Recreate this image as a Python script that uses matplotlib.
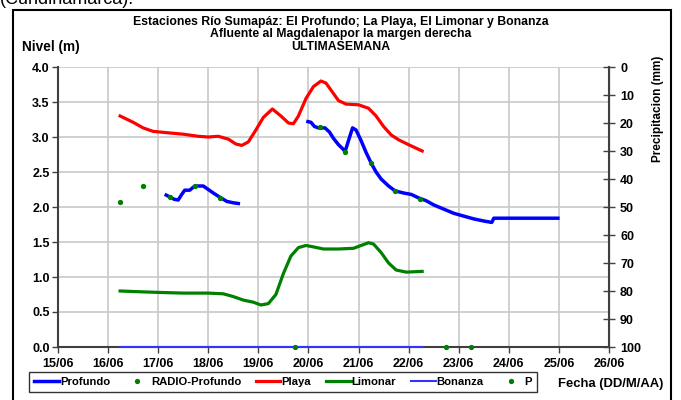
import numpy as np
import matplotlib
matplotlib.use("Agg")
import matplotlib.pyplot as plt
from matplotlib.patches import Rectangle

plt.rcParams['font.family'] = ['Liberation Sans', 'DejaVu Sans']
plt.rcParams['font.weight'] = 'bold'

# days of June (fractional)
day_labels = ['15/06', '16/06', '17/06', '18/06', '19/06', '20/06',
              '21/06', '22/06', '23/06', '24/06', '25/06', '26/06']
day_ticks = list(range(15, 27))

playa_t = [16.24, 16.5, 16.7, 16.9, 17.2, 17.5, 17.8, 18.0, 18.2, 18.4, 18.55, 18.67,
           18.8, 18.95, 19.1, 19.28, 19.45, 19.6, 19.7, 19.8, 19.95, 20.1, 20.25,
           20.35, 20.5, 20.6, 20.75, 21.0, 21.2, 21.35, 21.5, 21.65, 21.8, 22.0, 22.27]
playa_v = [3.30, 3.21, 3.13, 3.08, 3.06, 3.04, 3.01, 3.00, 3.01, 2.97, 2.90, 2.88,
           2.93, 3.10, 3.28, 3.40, 3.30, 3.20, 3.19, 3.30, 3.55, 3.72, 3.80,
           3.77, 3.62, 3.52, 3.47, 3.46, 3.41, 3.30, 3.15, 3.03, 2.96, 2.89, 2.80]

limonar_t = [16.24, 16.6, 17.0, 17.5, 18.0, 18.3, 18.5, 18.7, 18.9, 19.05, 19.2, 19.35,
             19.5, 19.65, 19.8, 19.95, 20.1, 20.3, 20.6, 20.9, 21.05, 21.2, 21.3,
             21.45, 21.6, 21.75, 21.95, 22.27]
limonar_v = [0.80, 0.79, 0.78, 0.77, 0.77, 0.76, 0.72, 0.67, 0.64, 0.60, 0.62, 0.75,
             1.05, 1.30, 1.42, 1.45, 1.43, 1.40, 1.40, 1.41, 1.45, 1.49, 1.47,
             1.35, 1.20, 1.10, 1.07, 1.08]

profundo_t = [17.16, 17.24, 17.32, 17.4, 17.47, 17.53, 17.63, 17.73, 17.9, 18.0, 18.1,
              18.23, 18.37, 18.5, 18.6, np.nan,
              19.99, 20.05, 20.12, 20.2, 20.33, 20.42, 20.5, 20.6, 20.7, 20.73, 20.8,
              20.88, 20.95, 21.05, 21.15, 21.25, 21.35, 21.45, 21.6, 21.73, 21.9, 22.05,
              22.2, 22.35, 22.5, 22.7, 22.9, 23.1, 23.3, 23.5, 23.66, 23.7, 24.0, 24.5, 24.98]
profundo_v = [2.17, 2.14, 2.11, 2.10, 2.18, 2.24, 2.24, 2.30, 2.30, 2.25, 2.20,
              2.14, 2.08, 2.06, 2.05, np.nan,
              3.22, 3.21, 3.15, 3.13, 3.13, 3.07, 2.98, 2.89, 2.82, 2.79, 2.95,
              3.13, 3.10, 2.95, 2.78, 2.63, 2.50, 2.40, 2.30, 2.23, 2.20, 2.18,
              2.13, 2.09, 2.03, 1.97, 1.91, 1.87, 1.83, 1.80, 1.78, 1.84, 1.84, 1.84, 1.84]

radio_t = [16.24, 16.7, 17.24, 17.73, 18.23, 20.23, 20.73, 21.25, 21.73, 22.23]
radio_v = [2.07, 2.30, 2.14, 2.30, 2.13, 3.14, 2.79, 2.63, 2.23, 2.12]

bonanza_t = [16.24, 22.27]
bonanza_v = [0.0, 0.0]

p_t = [19.73, 22.74, 23.24]
p_v = [100, 100, 100]

fig = plt.figure(figsize=(6.81, 4.0), dpi=100)
fig.patches.append(Rectangle((13/681, -0.1), 658/681, 1.1 - 10/400, transform=fig.transFigure,
                             fill=False, edgecolor='black', linewidth=1.5))
fig.text(0.0, 1.0, '(Cundinamarca).', fontsize=13, fontweight='normal', va='center', ha='left')

ax = fig.add_axes([58/681, 1 - 347/400, 551/681, 280/400])
ax2 = ax.twinx()

grid_c = '#c8c8c8'
ax.set_xlim(15, 26)
ax.set_ylim(0, 4)
ax.set_xticks(day_ticks)
ax.set_xticklabels(day_labels)
ax.set_yticks(np.arange(0, 4.01, 0.5))
ax.set_yticklabels(['%.1f' % v for v in np.arange(0, 4.01, 0.5)])
ax.grid(True, color=grid_c, linewidth=1.2)
ax.set_axisbelow(True)

ax.spines['top'].set_visible(False)
ax2.spines['top'].set_visible(False)
ax.spines['left'].set_color('#404040')
ax.spines['left'].set_linewidth(1.5)
ax.spines['bottom'].set_color('#404040')
ax.spines['bottom'].set_linewidth(1.5)
ax2.spines['right'].set_color('#404040')
ax2.spines['right'].set_linewidth(1.5)
ax2.spines['left'].set_visible(False)
ax2.spines['bottom'].set_visible(False)

ax.tick_params(axis='both', labelsize=9, length=4, width=1, color='#404040', pad=2)
ax.tick_params(axis='x', pad=4)
ax2.set_ylim(100, 0)
ax2.set_yticks(range(0, 101, 10))
ax2.tick_params(axis='y', labelsize=9, direction='inout', length=8, width=1, color='#404040', pad=4)

ax.plot(bonanza_t, bonanza_v, color='#3333ff', linewidth=1.5, clip_on=False, zorder=3)
ax.plot(limonar_t, limonar_v, color='#008000', linewidth=2.3, zorder=4)
ax.plot(playa_t, playa_v, color='#ff0000', linewidth=2.3, zorder=4)
ax.plot(profundo_t, profundo_v, color='#0000ff', linewidth=2.5, zorder=5)
ax.plot(radio_t, radio_v, linestyle='none', marker='o', markersize=2.8, color='#008000', zorder=6)
ax2.plot(p_t, p_v, linestyle='none', marker='o', markersize=2.8, color='#008000', clip_on=False, zorder=6)

fig.text(341/681, 1 - 22/400, 'Estaciones Río Sumapáz: El Profundo; La Playa, El Limonar y Bonanza',
         ha='center', va='center', fontsize=8.8)
fig.text(341/681, 1 - 34.5/400, 'Afluente al Magdalenapor la margen derecha',
         ha='center', va='center', fontsize=8.8)
fig.text(341/681, 1 - 47/400, 'ULTIMASEMANA', ha='center', va='center', fontsize=8.8)
fig.text(22/681, 1 - 47/400, 'Nivel (m)', ha='left', va='center', fontsize=9.8)
fig.text(658/681, 1 - 109/400, 'Precipitacion (mm)', rotation=90, ha='center', va='center', fontsize=8.5)
fig.text(611/681, 1 - 384/400, 'Fecha (DD/M/AA)', ha='center', va='center', fontsize=9.4)

h = [plt.Line2D([], [], color='#0000ff', linewidth=2.5),
     plt.Line2D([], [], linestyle='none', marker='o', markersize=2.8, color='#008000'),
     plt.Line2D([], [], color='#ff0000', linewidth=2.3),
     plt.Line2D([], [], color='#008000', linewidth=2.3),
     plt.Line2D([], [], color='#3333ff', linewidth=1.5),
     plt.Line2D([], [], linestyle='none', marker='o', markersize=2.8, color='#008000')]
labels = ['Profundo', 'RADIO-Profundo', 'Playa', 'Limonar', 'Bonanza', 'P']
leg = fig.legend(h, labels, loc='center', bbox_to_anchor=(283/681, 1 - 382/400), ncol=6,
                 fontsize=8.1, frameon=True, fancybox=False, edgecolor='black',
                 handlelength=2.2, handletextpad=0.1, columnspacing=1.3,
                 borderpad=0.45, borderaxespad=0)
leg.get_frame().set_linewidth(1.0)

fig.savefig('out.png', dpi=100)
